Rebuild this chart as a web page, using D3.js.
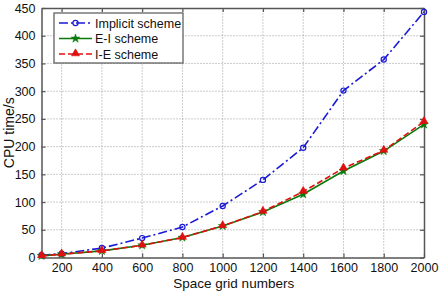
<!DOCTYPE html>
<html>
<head>
<meta charset="utf-8">
<script src="https://cdn.jsdelivr.net/npm/d3@7"></script>
<style>
  body { margin: 0; background: #fff; }
  text { font-family: "Liberation Sans", Arial, sans-serif; fill: #111; }
</style>
</head>
<body>
<div id="chart"></div>
<script>
// grid sizes (x values)
const gridNumbers = [100, 200, 400, 600, 800, 1000, 1200, 1400, 1600, 1800, 2000];
// CPU time per scheme
const implicitTimes = [4, 7, 17, 35, 55, 93, 140, 198, 301, 357, 443];
const eiTimes = [3, 6, 12, 22, 36, 57, 82, 114, 156, 192, 240];
const ieTimes = [3, 6, 12, 22, 36, 57, 83, 119, 161, 193, 245];
const xTicks = [200, 400, 600, 800, 1000, 1200, 1400, 1600, 1800, 2000];
const yTicks = [0, 50, 100, 150, 200, 250, 300, 350, 400, 450];

const series = [
  { name: "Implicit scheme", values: implicitTimes, color: "#1a1ad6", dash: "9,3,2,3", marker: "circle" },
  { name: "E-I scheme", values: eiTimes, color: "#0a7a0a", dash: null, marker: "star" },
  { name: "I-E scheme", values: ieTimes, color: "#e01010", dash: "6,3", marker: "triangle" }
];

const width = 439, height = 292;
const margin = { top: 8, right: 15, bottom: 34.5, left: 41.5 };

const svg = d3.select("#chart").append("svg")
  .attr("width", width)
  .attr("height", height);

const x = d3.scaleLinear().domain([100, 2000]).range([margin.left, width - margin.right]);
const y = d3.scaleLinear().domain([0, 450]).range([height - margin.bottom, margin.top]);

// dotted grid
const grid = svg.append("g");
grid.selectAll(".gx").data(xTicks.filter(d => d < 2000)).enter().append("line")
  .attr("x1", d => x(d)).attr("x2", d => x(d))
  .attr("y1", y(0)).attr("y2", y(450))
  .attr("stroke", "#999").attr("stroke-width", 1).attr("stroke-dasharray", "1,2");
grid.selectAll(".gy").data(yTicks.filter(d => d > 0 && d < 450)).enter().append("line")
  .attr("x1", x(100)).attr("x2", x(2000))
  .attr("y1", d => y(d)).attr("y2", d => y(d))
  .attr("stroke", "#999").attr("stroke-width", 1).attr("stroke-dasharray", "1,2");

// axes, matlab-like box with inward ticks
const axisColor = "#555";
const fmt = d3.format("d");
svg.append("g")
  .attr("transform", `translate(0,${y(0)})`)
  .call(d3.axisBottom(x).tickValues(xTicks).tickFormat(fmt).tickSizeInner(-4).tickSizeOuter(0).tickPadding(6));
svg.append("g")
  .attr("transform", `translate(${x(100)},0)`)
  .call(d3.axisLeft(y).tickValues(yTicks).tickFormat(fmt).tickSizeInner(-4).tickSizeOuter(0).tickPadding(6));
svg.append("g")
  .attr("transform", `translate(0,${y(450)})`)
  .call(d3.axisTop(x).tickValues(xTicks).tickSizeInner(-4).tickSizeOuter(0).tickFormat(""));
svg.append("g")
  .attr("transform", `translate(${x(2000)},0)`)
  .call(d3.axisRight(y).tickValues(yTicks).tickSizeInner(-4).tickSizeOuter(0).tickFormat(""));

svg.selectAll(".domain").attr("stroke", axisColor).attr("stroke-width", 1.5);
svg.selectAll(".tick line").attr("stroke", axisColor).attr("stroke-width", 1.2);
svg.selectAll(".tick text").attr("font-size", 12.5).attr("fill", "#111")
  .attr("font-family", "Liberation Sans, Arial, sans-serif");

// axis titles
svg.append("text")
  .attr("x", (x(100) + x(2000)) / 2 + 1)
  .attr("y", 288)
  .attr("text-anchor", "middle")
  .attr("font-size", 13.5)
  .text("Space grid numbers");
svg.append("text")
  .attr("transform", `translate(14,${(y(0) + y(450)) / 2}) rotate(-90)`)
  .attr("text-anchor", "middle")
  .attr("font-size", 14)
  .text("CPU time/s");

// marker helpers
const starSym = d3.symbol().type(d3.symbolStar).size(24);
const triSym = d3.symbol().type(d3.symbolTriangle).size(28);

function drawMarker(g, type, cx, cy, color) {
  if (type === "circle") {
    g.append("circle").attr("cx", cx).attr("cy", cy).attr("r", 2.6)
      .attr("fill", "none").attr("stroke", color).attr("stroke-width", 1.2);
  } else if (type === "star") {
    g.append("path").attr("d", starSym()).attr("transform", `translate(${cx},${cy})`)
      .attr("fill", color).attr("stroke", color).attr("stroke-width", 0.5);
  } else {
    g.append("path").attr("d", triSym()).attr("transform", `translate(${cx},${cy - 0.5})`)
      .attr("fill", color).attr("stroke", color).attr("stroke-width", 0.6);
  }
}

const line = d3.line().x(d => x(d[0])).y(d => y(d[1]));

series.forEach(s => {
  const pts = gridNumbers.map((g, i) => [g, s.values[i]]);
  const g = svg.append("g");
  g.append("path").datum(pts)
    .attr("d", line)
    .attr("fill", "none")
    .attr("stroke", s.color)
    .attr("stroke-width", 1.6)
    .attr("stroke-dasharray", s.dash);
  pts.forEach(p => drawMarker(g, s.marker, x(p[0]), y(p[1]), s.color));
});

// legend
const lg = svg.append("g");
lg.append("rect")
  .attr("x", 54).attr("y", 13).attr("width", 129).attr("height", 50)
  .attr("fill", "#fff").attr("stroke", axisColor).attr("stroke-width", 1.2);
series.forEach((s, i) => {
  const cy = 23 + i * 15.5;
  lg.append("line")
    .attr("x1", 59).attr("x2", 92).attr("y1", cy).attr("y2", cy)
    .attr("stroke", s.color).attr("stroke-width", 1.6)
    .attr("stroke-dasharray", s.dash);
  drawMarker(lg, s.marker, 75.5, cy, s.color);
  lg.append("text")
    .attr("x", 95).attr("y", cy + 4.5)
    .attr("font-size", 12.5)
    .text(s.name);
});
</script>
</body>
</html>
